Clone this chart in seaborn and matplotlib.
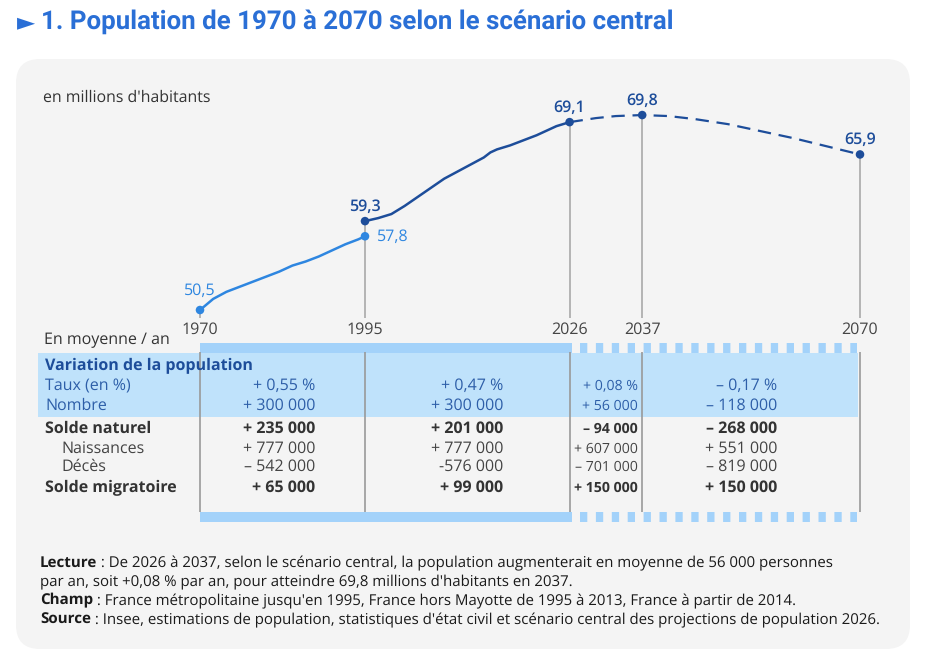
import matplotlib
matplotlib.use('Agg')
import matplotlib.pyplot as plt
import matplotlib.transforms as mtransforms
from matplotlib.patches import FancyBboxPatch, Rectangle
import seaborn as sns

# population, millions
years_hist = [1970, 1972, 1974, 1976, 1978, 1980, 1982, 1984, 1986, 1988, 1990, 1992, 1994, 1995]
pop_hist = [50.5, 51.6, 52.3, 52.8, 53.3, 53.8, 54.3, 54.9, 55.3, 55.8, 56.4, 57.0, 57.5, 57.8]
years_obs = [1995, 1997, 1999, 2001, 2003, 2005, 2007, 2009, 2011, 2013, 2014, 2015, 2017, 2019, 2021, 2023, 2024, 2026]
pop_obs = [59.3, 59.6, 60.0, 60.8, 61.7, 62.6, 63.5, 64.2, 64.9, 65.6, 66.1, 66.4, 66.8, 67.3, 67.8, 68.4, 68.7, 69.1]
years_proj = [2026, 2030, 2033, 2037, 2041, 2045, 2050, 2055, 2060, 2065, 2070]
pop_proj = [69.1, 69.5, 69.7, 69.8, 69.7, 69.4, 68.9, 68.2, 67.5, 66.7, 65.9]

key_years = [1970, 1995, 2026, 2037, 2070]
key_pop = [50.5, 59.3, 69.1, 69.8, 65.9]
light_years = [1970, 1995]
light_pop = [50.5, 57.8]
dark_years = [1995, 2026, 2037, 2070]
dark_pop = [59.3, 69.1, 69.8, 65.9]

# table
row_labels = ["Taux (en %)", "Nombre", "Solde naturel", "Naissances", "Décès", "Solde migratoire"]
taux = ["+ 0,55 %", "+ 0,47 %", "+ 0,08 %", "– 0,17 %"]
nombre = ["+ 300 000", "+ 300 000", "+ 56 000", "– 118 000"]
solde_nat = ["+ 235 000", "+ 201 000", "– 94 000", "– 268 000"]
naissances = ["+ 777 000", "+ 777 000", "+ 607 000", "+ 551 000"]
deces = ["– 542 000", "-576 000", "– 701 000", "– 819 000"]
solde_mig = ["+ 65 000", "+ 99 000", "+ 150 000", "+ 150 000"]

notes = [
    ("Lecture", " : De 2026 à 2037, selon le scénario central, la population augmenterait en moyenne de 56 000 personnes"),
    ("", "par an, soit +0,08 % par an, pour atteindre 69,8 millions d'habitants en 2037."),
    ("Champ", " : France métropolitaine jusqu'en 1995, France hors Mayotte de 1995 à 2013, France à partir de 2014."),
    ("Source", " : Insee, estimations de population, statistiques d'état civil et scénario central des projections de population 2026."),
]

LIGHT = "#2e86e0"
DARK = "#1d4d9a"
TITLE = "#2a6fd6"
BAND = "#bfe2fb"
BAR = "#a3d2fa"
GRID = "#a9a9a9"
FS = 11.5

sns.set_theme(style="white")
plt.rcParams['font.family'] = ['Open Sans', 'DejaVu Sans']
plt.rcParams['text.hinting'] = 'no_hinting'

W, H = 927, 667
fig = plt.figure(figsize=(W / 100, H / 100), dpi=100)
fig.patch.set_facecolor("white")

def fx(px):
    return px / W

def fy(py):
    return 1 - py / H

# grey rounded card
card = FancyBboxPatch((16, H - 649), 894, 590, boxstyle="round,pad=0,rounding_size=24",
                      transform=None, facecolor="#f4f4f4", edgecolor="none", zorder=-5)
fig.patches.append(card)

# title
fig.text(fx(17), fy(23), "►", family="DejaVu Sans", fontsize=17, color=TITLE, va="center")
fig.text(fx(41), fy(22), "1. Population de 1970 à 2070 selon le scénario central",
         family="Roboto", fontweight="bold", fontsize=18.6, color=TITLE, va="center")

# ---- line chart
ax = fig.add_axes([fx(200), fy(318), fx(860) - fx(200), fy(100) - fy(318)])
ax.patch.set_alpha(0)
ax.set_xlim(1970, 2070)
ax.set_ylim(49.71, 71.29)
sns.despine(ax=ax, left=True, bottom=True)

ax.vlines(key_years, 49.71, key_pop, color=GRID, lw=1.2, zorder=1, clip_on=False)
sns.lineplot(x=years_hist, y=pop_hist, ax=ax, color=LIGHT, lw=1.8, zorder=3, clip_on=False)
sns.lineplot(x=years_obs, y=pop_obs, ax=ax, color=DARK, lw=1.8, zorder=3, clip_on=False)
sns.lineplot(x=years_proj, y=pop_proj, ax=ax, color=DARK, lw=1.6, zorder=3, clip_on=False,
             linestyle=(0, (6, 3.5)))
sns.scatterplot(x=light_years, y=light_pop, ax=ax, color=LIGHT, s=38, edgecolor="none",
                zorder=4, clip_on=False)
sns.scatterplot(x=dark_years, y=dark_pop, ax=ax, color=DARK, s=38, edgecolor="none",
                zorder=4, clip_on=False)

ax.set_xticks(key_years)
ax.set_xticklabels([str(y) for y in key_years], fontsize=FS, color="#444444")
ax.tick_params(axis="x", length=0, pad=2.5)
ax.set_yticks([])
ax.set_xlabel("")
ax.set_ylabel("")

lab_kw = dict(textcoords="offset points", fontsize=FS, ha="center", va="center")
ax.annotate("50,5", (1970, 50.5), xytext=(0, 14), color=LIGHT, **lab_kw)
ax.annotate("57,8", (1995, 57.8), xytext=(20, 0), color=LIGHT, **lab_kw)
ax.annotate("59,3", (1995, 59.3), xytext=(0, 10), color=DARK, fontweight="semibold",
            **lab_kw)
for yr, v in zip([2026, 2037, 2070], [69.1, 69.8, 65.9]):
    ax.annotate(f"{v:.1f}".replace(".", ","), (yr, v), xytext=(0, 10.5), color=DARK,
                fontweight="semibold", **lab_kw)

fig.text(fx(43), fy(98), "en millions d'habitants", fontsize=FS - 0.1, color="#333333", va="center")
fig.text(fx(44), fy(340), "En moyenne / an", fontsize=FS, color="#333333", va="center")

# ---- table (y in pixel rows, inverted)
tb = fig.add_axes([fx(200), fy(525), fx(860) - fx(200), fy(340) - fy(525)], sharex=ax)
tb.patch.set_alpha(0)
tb.set_ylim(525, 340)
tb.axis("off")
blend = mtransforms.blended_transform_factory(fig.transFigure, tb.transData)

tb.add_patch(Rectangle((fx(38), 353), fx(858) - fx(38), 64, transform=blend,
                       facecolor=BAND, edgecolor="none", clip_on=False, zorder=0))
tb.vlines(key_years, 352, 512, color="#999999", lw=1.2, zorder=2, clip_on=False)

for ybar in [348, 517]:
    tb.plot([1970, 2026.3], [ybar, ybar], color=BAR, lw=7.2, solid_capstyle="butt", zorder=1)
    tb.plot([2027.6, 2069.6], [ybar, ybar], color=BAR, lw=7.2, zorder=1,
            dashes=(0.73, 0.86), dash_capstyle="butt")

row_y = [386, 406, 429, 449, 467, 488]
row_x = [45, 45, 45, 61, 61, 45]
bold_rows = [False, False, True, False, False, True]
row_color = ["#2d5ea8", "#2d5ea8", "#333333", "#444444", "#444444", "#333333"]
col_right = [315, 503, 638, 777]
col_size = [FS, FS, 10.2, FS]

tb.text(fx(45), 366, "Variation de la population", transform=blend, fontsize=FS,
        fontweight="bold", color=DARK, va="center")
for lab, vals, y, x, b, c in zip(row_labels, [taux, nombre, solde_nat, naissances, deces, solde_mig],
                                 row_y, row_x, bold_rows, row_color):
    w = "bold" if b else "normal"
    tb.text(fx(x), y, lab, transform=blend, fontsize=FS, fontweight=w, color=c, va="center")
    for v, xr, sz in zip(vals, col_right, col_size):
        tb.text(fx(xr), y, v, transform=blend, fontsize=sz, fontweight=w, color=c,
                va="center", ha="right")

# ---- notes
renderer = fig.canvas.get_renderer()
for (b, rest), y in zip(notes, [563, 582, 601, 620]):
    x0 = fx(40)
    if b:
        t = fig.text(x0, fy(y), b, fontsize=10.9, fontweight="bold", color="#1a1a1a", va="center")
        x0 = t.get_window_extent(renderer).x1 / W
    fig.text(x0, fy(y), rest, fontsize=10.8, color="#1a1a1a", va="center")

fig.savefig("out.png", dpi=100)
